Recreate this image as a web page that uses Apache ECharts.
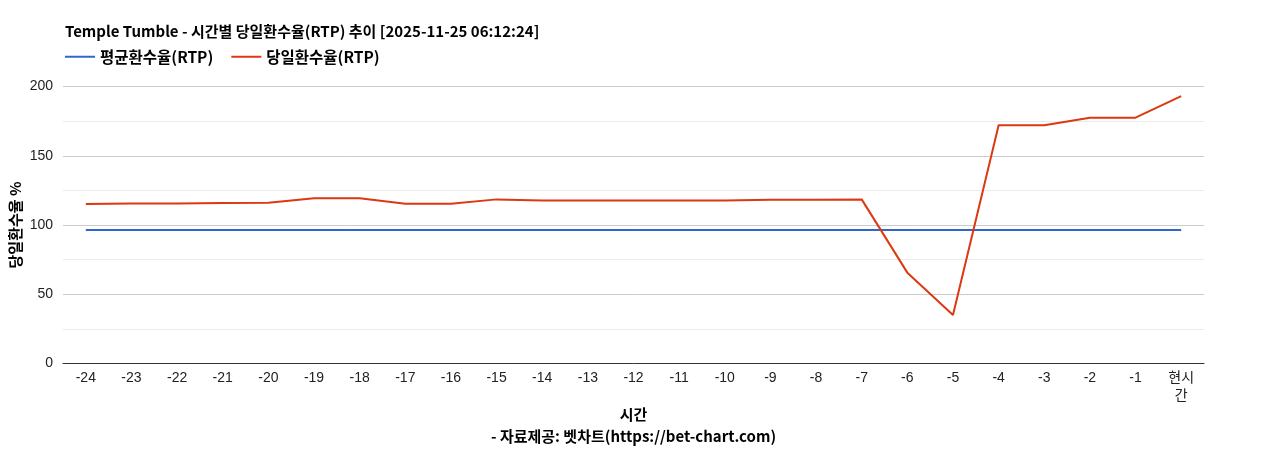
<!DOCTYPE html>
<html>
<head>
    <meta charset="utf-8"/>
    <title>Temple Tumble RTP</title>
    <script src="https://cdn.jsdelivr.net/npm/echarts@6/dist/echarts.min.js"></script>
    <style>
        body { margin: 0; background: #fff; }
    </style>
</head>
<body>

<div id="main" style="width: 1268px;height:450px;"></div>

<script>
    // 시간 (x축)
    var hours = ['-24', '-23', '-22', '-21', '-20', '-19', '-18', '-17', '-16', '-15', '-14', '-13',
        '-12', '-11', '-10', '-9', '-8', '-7', '-6', '-5', '-4', '-3', '-2', '-1', '현시간'];

    // 평균환수율 (고정값)
    var avgRtp = [96.4, 96.4, 96.4, 96.4, 96.4, 96.4, 96.4, 96.4, 96.4, 96.4, 96.4, 96.4,
        96.4, 96.4, 96.4, 96.4, 96.4, 96.4, 96.4, 96.4, 96.4, 96.4, 96.4, 96.4, 96.4];

    // 당일환수율
    var dayRtp = [115.2, 115.5, 115.5, 115.8, 116, 119.3, 119.3, 115.4, 115.4, 118.5, 117.6, 117.6,
        117.6, 117.6, 117.6, 118.3, 118.3, 118.5, 65.6, 35, 172, 172, 177.5, 177.5, 193.1];

    var yTicks = [0, 50, 100, 150, 200];

    var seriesNames = ['평균환수율(RTP)', '당일환수율(RTP)'];

    var fontKr = '"Noto Sans CJK KR", "Liberation Sans", Arial, sans-serif';

    var myChart = echarts.init(document.getElementById('main'));

    var option = {
        animation: false,
        title: {
            text: 'Temple Tumble - 시간별 당일환수율(RTP) 추이 [2025-11-25 06:12:24]',
            left: 60,
            top: 19,
            textStyle: {fontSize: 15, fontWeight: 'bold', color: '#000', fontFamily: fontKr}
        },
        legend: {
            data: seriesNames,
            left: 60,
            top: 44,
            icon: 'rect',
            itemWidth: 30,
            itemHeight: 2,
            itemGap: 18,
            textStyle: {fontSize: 15.5, fontWeight: 'bold', color: '#000', fontFamily: fontKr}
        },
        grid: {left: 63, right: 64, top: 86.5, bottom: 86.5, outerBoundsMode: 'none', containLabel: false},
        xAxis: {
            type: 'category',
            data: hours,
            boundaryGap: true,
            name: '시간\n- 자료제공: 벳차트(https://bet-chart.com)',
            nameLocation: 'middle',
            nameGap: 40,
            nameMoveOverlap: false,
            nameTextStyle: {fontSize: 15, fontWeight: 'bold', color: '#000', lineHeight: 22, fontFamily: fontKr},
            axisLine: {lineStyle: {color: '#333'}},
            axisTick: {show: false},
            axisLabel: {
                fontSize: 14, color: '#222', margin: 6, interval: 0, lineHeight: 18,
                fontFamily: '"Liberation Sans", Arial, "Noto Sans CJK KR", sans-serif',
                formatter: function (v) { return v === '현시간' ? '현시\n간' : v; }
            }
        },
        yAxis: {
            type: 'value',
            min: yTicks[0],
            max: yTicks[yTicks.length - 1],
            interval: 50,
            name: '당일환수율 %',
            nameLocation: 'middle',
            nameGap: 40,
            nameMoveOverlap: false,
            nameTextStyle: {fontSize: 15, fontWeight: 'bold', color: '#000', fontFamily: fontKr},
            axisLine: {show: false},
            axisTick: {show: false},
            axisLabel: {fontSize: 14, color: '#222', margin: 10,
                fontFamily: '"Liberation Sans", Arial, sans-serif'},
            splitLine: {lineStyle: {color: '#cccccc'}},
            minorTick: {show: false, splitNumber: 2},
            minorSplitLine: {show: true, lineStyle: {color: '#ebebeb'}}
        },
        series: [{
            name: seriesNames[0],
            type: 'line',
            data: avgRtp,
            showSymbol: false,
            color: '#3366cc',
            lineStyle: {width: 2}
        }, {
            name: seriesNames[1],
            type: 'line',
            data: dayRtp,
            showSymbol: false,
            color: '#dc3912',
            lineStyle: {width: 2}
        }]
    };

    myChart.setOption(option);
</script>
</body>
</html>
